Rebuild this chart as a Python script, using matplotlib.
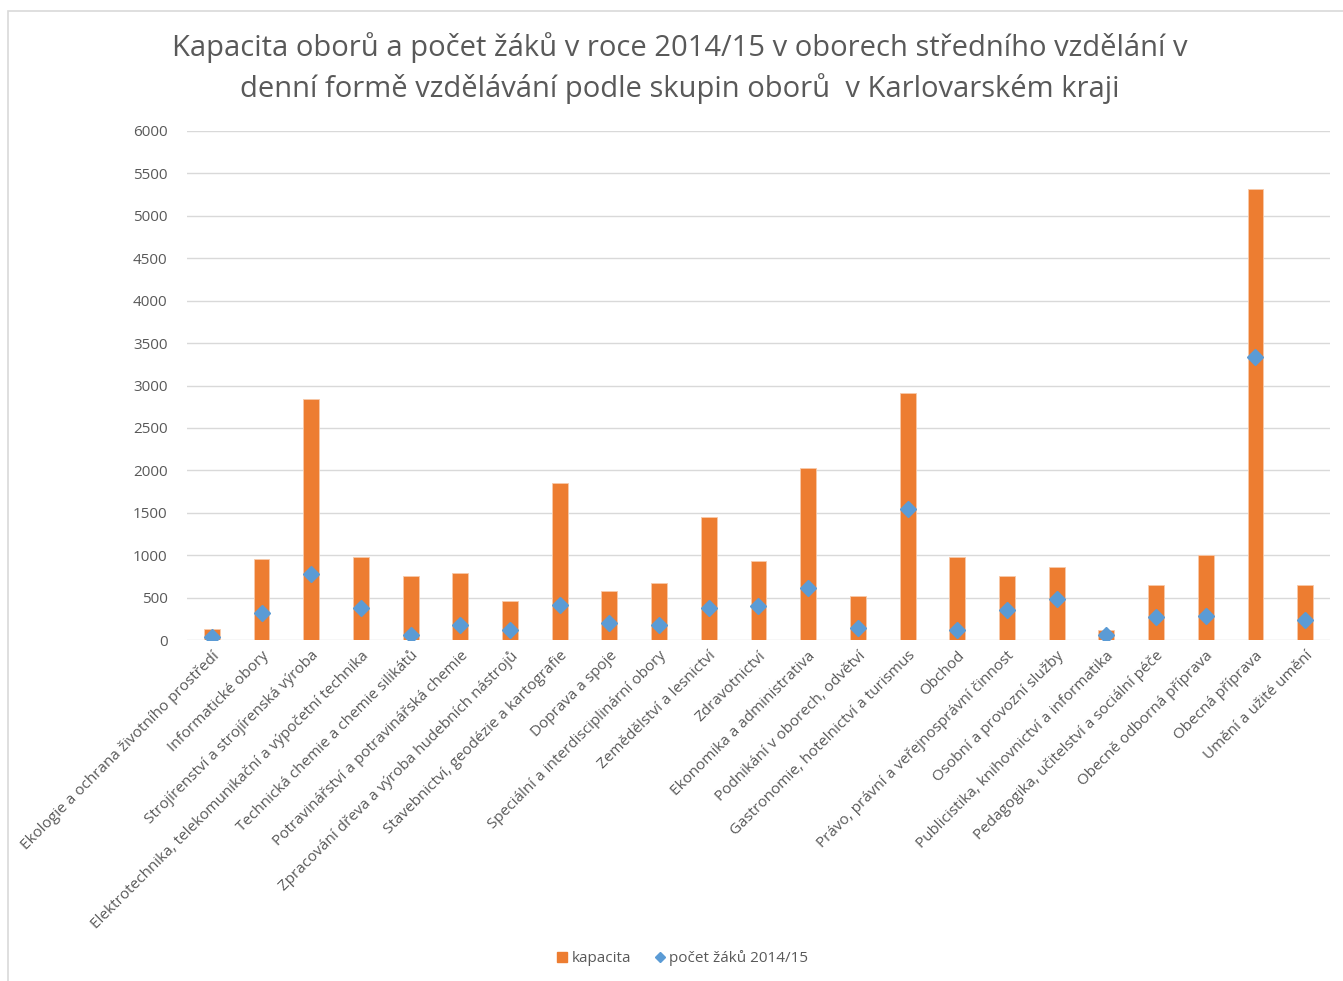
import matplotlib
matplotlib.use("Agg")
import matplotlib.pyplot as plt
from matplotlib.patches import Rectangle
from matplotlib.lines import Line2D
import numpy as np

categories = [
    "Ekologie a ochrana životního prostředí",
    "Informatické obory",
    "Strojírenství a strojírenská výroba",
    "Elektrotechnika, telekomunikační a výpočetní technika",
    "Technická chemie a chemie silikátů",
    "Potravinářství a potravinářská chemie",
    "Zpracování dřeva a výroba hudebních nástrojů",
    "Stavebnictví, geodézie a kartografie",
    "Doprava a spoje",
    "Speciální a interdisciplinární obory",
    "Zemědělství a lesnictví",
    "Zdravotnictví",
    "Ekonomika a administrativa",
    "Podnikání v oborech, odvětví",
    "Gastronomie, hotelnictví a turismus",
    "Obchod",
    "Právo, právní a veřejnosprávní činnost",
    "Osobní a provozní služby",
    "Publicistika, knihovnictví a informatika",
    "Pedagogika, učitelství a sociální péče",
    "Obecně odborná příprava",
    "Obecná příprava",
    "Umění a užité umění",
]
kapacita = [125, 950, 2842, 984, 760, 795, 464, 1846, 580, 677, 1445, 937,
            2028, 516, 2906, 980, 758, 855, 114, 654, 1000, 5315, 654]
pocet_zaku = [39, 315, 783, 374, 63, 181, 118, 413, 201, 181, 382, 402,
              614, 138, 1543, 118, 358, 480, 55, 276, 283, 3331, 232]
yticks = [0, 500, 1000, 1500, 2000, 2500, 3000, 3500, 4000, 4500, 5000, 5500, 6000]
series_names = ["kapacita", "počet žáků 2014/15"]

W, H = 1343, 981
fig = plt.figure(figsize=(W / 100, H / 100), dpi=100)
fig.patch.set_facecolor("white")

font = "Open Sans"
grey = "#595959"
orange = "#ED7D31"
blue = "#5B9BD5"

# chart area border
fig.patches.append(Rectangle((8 / W, -0.05), 1.1, 1 - 11 / H + 0.05,
                             transform=fig.transFigure, fill=False,
                             edgecolor="#D9D9D9", linewidth=1.2))

ax = fig.add_axes([187 / W, 1 - 640 / H, (1330 - 187) / W, (640 - 131) / H])
x = np.arange(len(categories))
ax.bar(x, kapacita, width=0.32, color=orange, edgecolor="#F8C9A9",
       linewidth=0.6, zorder=2)
ax.plot(x, pocet_zaku, linestyle="none", marker="D", markersize=8.5,
        color=blue, zorder=3)

ax.set_xlim(-0.5, len(categories) - 0.5)
ax.set_ylim(0, 6000)
ax.set_yticks(yticks)
ax.set_yticklabels([str(v) for v in yticks], fontsize=11, color=grey, family=font)
ax.grid(axis="y", color="#D9D9D9", linewidth=1, zorder=0)
ax.set_axisbelow(True)
for s in ax.spines.values():
    s.set_visible(False)
ax.tick_params(axis="both", length=0)
ax.tick_params(axis="y", pad=14)
ax.set_xticks(x)
ax.set_xticklabels(categories, rotation=45, ha="right", rotation_mode="anchor",
                   fontsize=11, color=grey, family=font)
ax.tick_params(axis="x", pad=6)

fig.text(680 / W, 1 - 48 / H,
         "Kapacita oborů a počet žáků v roce 2014/15 v oborech středního vzdělání v",
         ha="center", va="center", fontsize=21, color=grey, family=font)
fig.text(680 / W, 1 - 89 / H,
         "denní formě vzdělávání podle skupin oborů  v Karlovarském kraji",
         ha="center", va="center", fontsize=21, color=grey, family=font)

handles = [
    Line2D([], [], linestyle="none", marker="s", markersize=7, color=orange),
    Line2D([], [], linestyle="none", marker="D", markersize=5, color=blue),
]
leg = fig.legend(handles, series_names, loc="center",
                 bbox_to_anchor=(683 / W, 1 - 958 / H), ncol=2,
                 frameon=False, prop={"family": font, "size": 11},
                 handlelength=0.6, handletextpad=0.3, columnspacing=1.6)
for t in leg.get_texts():
    t.set_color(grey)

fig.savefig("out.png", dpi=100, facecolor="white")
